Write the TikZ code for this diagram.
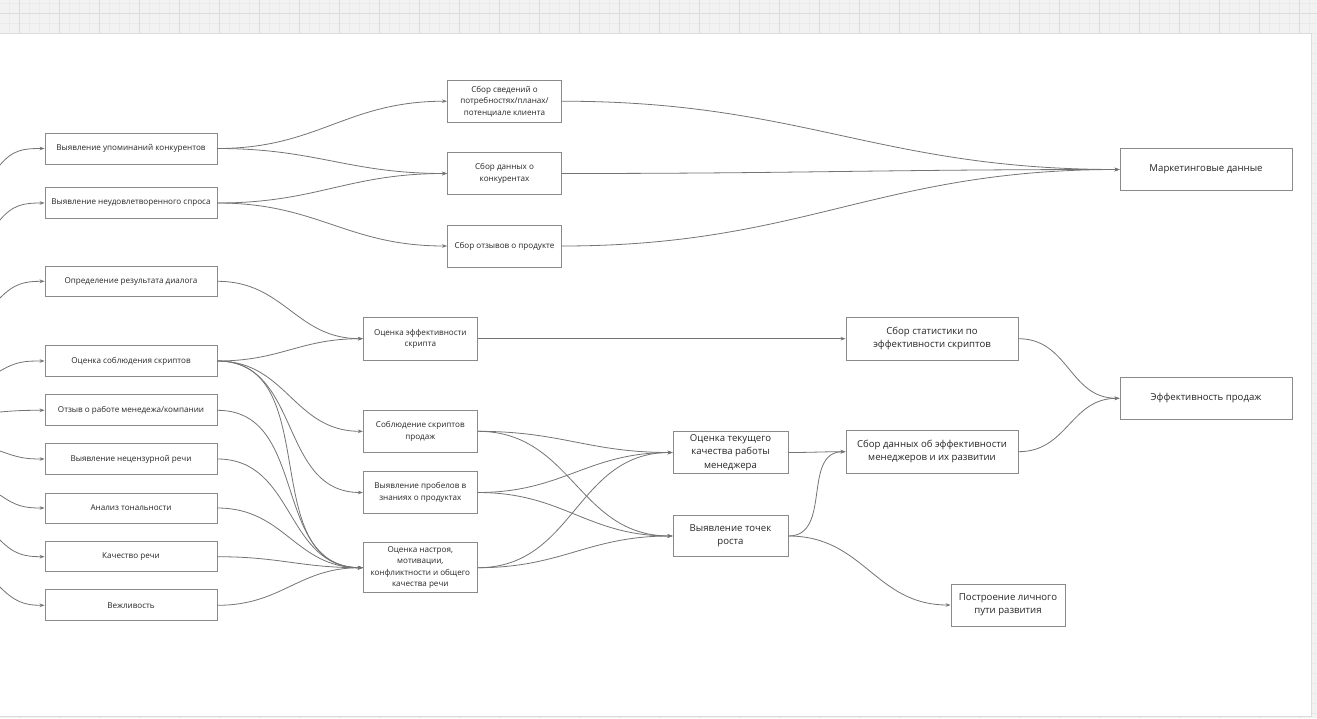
\documentclass[tikz,border=0pt]{standalone}
\usepackage{fontspec}
\setmainfont{Open Sans}
\usetikzlibrary{arrows.meta,calc}
\definecolor{fond}{HTML}{F2F2F2}
\definecolor{grille}{HTML}{EAEAEA}
\definecolor{grillefort}{HTML}{DCDCDC}
\definecolor{trait}{HTML}{747474}
\definecolor{bord}{HTML}{8A8A8A}
\definecolor{texte}{HTML}{262626}
\tikzset{bloc/.style={
    draw=bord,
    fill=white,
    line width=0.9pt,
    align=center,
    text=texte,
    inner sep=1pt,
    font=\fontsize{8.1}{11.5}\selectfont}}
\tikzset{grandbloc/.style={
    bloc,
    font=\fontsize{9.6}{13.3}\selectfont}}
\tikzset{lien/.style={
    draw=trait,
    line width=0.8pt,
    -{Stealth[length=5pt,width=3.6pt]},
    out=0, in=180, looseness=1.1}}

\begin{document}
\begin{tikzpicture}[x=1pt,y=-1pt]
\useasboundingbox (0,0) rectangle (1317,718);
% fond quadrille
\fill[fond] (0,0) rectangle (1317,718);
\foreach \x in {9,19,...,1317} \draw[grille,line width=0.6pt] (\x,0) -- (\x,718);
\foreach \y in {3,13,...,718} \draw[grille,line width=0.6pt] (0,\y) -- (1317,\y);
\foreach \x in {19,59,...,1317} \draw[grillefort,line width=0.6pt] (\x,0) -- (\x,718);
\draw[grillefort,line width=0.6pt] (0,13) -- (1317,13);
\fill[white] (0,33.5) rectangle (1311.5,716);
\draw[grillefort,line width=0.8pt] (-1,33.5) -- (1311.5,33.5) -- (1311.5,716) -- (-1,716);

% premiere colonne
\node[bloc,minimum width=172pt,minimum height=31pt] (upom) at (131,148.5) {Выявление упоминаний конкурентов};
\node[bloc,minimum width=172pt,minimum height=31pt] (spros) at (131,203) {Выявление неудовлетворенного спроса};
\node[bloc,minimum width=172pt,minimum height=30pt] (itog) at (131,281.3) {Определение результата диалога};
\node[bloc,minimum width=172pt,minimum height=31pt] (skript) at (131,361) {Оценка соблюдения скриптов};
\node[bloc,minimum width=172pt,minimum height=31pt] (otzyv) at (131,410.3) {Отзыв о работе менедежа/компании};
\node[bloc,minimum width=172pt,minimum height=31pt] (mat) at (131,459) {Выявление нецензурной речи};
\node[bloc,minimum width=172pt,minimum height=30pt] (ton) at (131,508) {Анализ тональности};
\node[bloc,minimum width=172pt,minimum height=30pt] (rech) at (131,556.7) {Качество речи};
\node[bloc,minimum width=172pt,minimum height=31pt] (vezh) at (131,605.3) {Вежливость};

% entrees hors cadre
\coordinate (e1) at (0,165);
\coordinate (e2) at (0,220);
\coordinate (e3) at (0,298);
\coordinate (e4) at (0,371);
\coordinate (e5) at (0,412);
\coordinate (e6) at (0,451);
\coordinate (e7) at (0,495);
\coordinate (e8) at (0,540);
\coordinate (e9) at (0,587);
\draw[lien] (e1) to[out=50] (upom.west);
\draw[lien] (e2) to[out=50] (spros.west);
\draw[lien] (e3) to[out=45] (itog.west);
\draw[lien] (e4) to[out=30] (skript.west);
\draw[lien] (e5) to[out=5] (otzyv.west);
\draw[lien] (e6) to[out=-20] (mat.west);
\draw[lien] (e7) to[out=-35] (ton.west);
\draw[lien] (e8) to[out=-45] (rech.west);
\draw[lien] (e9) to[out=-45] (vezh.west);

% marketing
\node[bloc,minimum width=114pt,minimum height=42pt] (potreb) at (504.5,101.2) {Сбор сведений о\\потребностях/планах/\\потенциале клиента};
\node[bloc,minimum width=114pt,minimum height=42pt] (konk) at (504.5,173.5) {Сбор данных о\\конкурентах};
\node[bloc,minimum width=114pt,minimum height=42pt] (prod) at (504.5,246) {Сбор отзывов о продукте};
\node[grandbloc,minimum width=172pt,minimum height=42pt] (market) at (1206,169.5) {Маркетинговые данные};

% analyse des scripts et du discours
\node[bloc,minimum width=114pt,minimum height=42.5pt] (effskr) at (420.3,338.7) {Оценка эффективности\\скрипта};
\node[bloc,minimum width=114pt,minimum height=42pt] (soblud) at (420.3,431.3) {Соблюдение скриптов\\продаж};
\node[bloc,minimum width=114pt,minimum height=42pt] (probel) at (420.3,492.5) {Выявление пробелов в\\знаниях о продуктах};
\node[bloc,minimum width=114pt,minimum height=50pt] (nastroy) at (420.3,567.7) {Оценка настроя,\\мотивации,\\конфликтности и общего\\качества речи};

\node[grandbloc,minimum width=115pt,minimum height=41.5pt] (tekush) at (730.5,452.5) {Оценка текущего\\качества работы\\менеджера};
\node[grandbloc,minimum width=115pt,minimum height=41.5pt] (tochki) at (730.5,536) {Выявление точек\\роста};
\node[grandbloc,minimum width=172pt,minimum height=42.5pt] (stat) at (932,338.7) {Сбор статистики по\\эффективности скриптов};
\node[grandbloc,minimum width=172pt,minimum height=43pt] (menedzh) at (932,451.7) {Сбор данных об эффективности\\менеджеров и их развитии};
\node[grandbloc,minimum width=114pt,minimum height=42pt] (put) at (1008,605) {Построение личного\\пути развития};
\node[grandbloc,minimum width=172pt,minimum height=42pt] (prodazhi) at (1206,398.3) {Эффективность продаж};

% liens
\draw[lien] (upom.east) to (potreb.west);
\draw[lien] (upom.east) to (konk.west);
\draw[lien] (spros.east) to (konk.west);
\draw[lien] (spros.east) to (prod.west);
\draw[lien] (potreb.east) to (market.west);
\draw[lien] (konk.east) to (market.west);
\draw[lien] (prod.east) to (market.west);

\draw[lien] (itog.east) to (effskr.west);
\draw[lien] (skript.east) to (effskr.west);
\draw[lien] (skript.east) to (soblud.west);
\draw[lien] (skript.east) to (probel.west);
\draw[lien] (skript.east) to (nastroy.west);
\foreach \n in {otzyv,mat,ton,rech,vezh}
  \draw[lien] (\n.east) to (nastroy.west);

\draw[lien] (effskr.east) -- (stat.west);
\draw[lien] (stat.east) to (prodazhi.west);
\foreach \n in {soblud,probel,nastroy}{
  \draw[lien] (\n.east) to (tekush.west);
  \draw[lien] (\n.east) to (tochki.west);}
\draw[lien] (tekush.east) to (menedzh.west);
\draw[lien] (tochki.east) to (menedzh.west);
\draw[lien] (tochki.east) to (put.west);
\draw[lien] (menedzh.east) to (prodazhi.west);
\end{tikzpicture}
\end{document}
